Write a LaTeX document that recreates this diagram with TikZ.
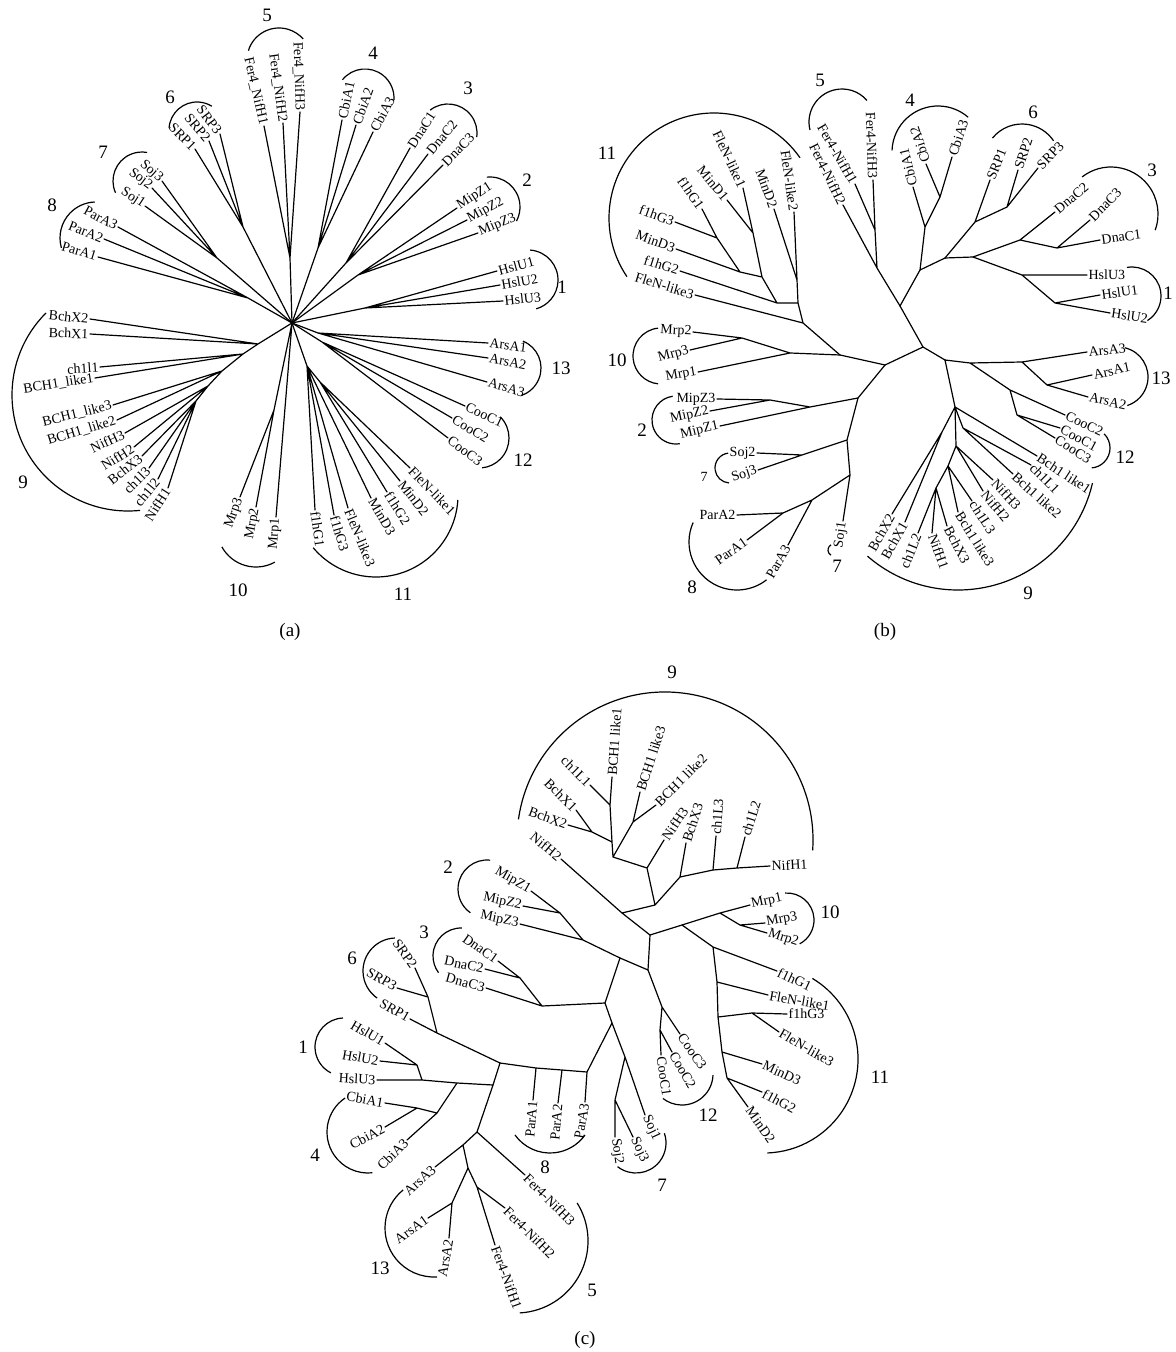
\documentclass[tikz,border=0pt]{standalone}
\usepackage{fontspec}
\setmainfont{Liberation Serif}
\tikzset{
    % Labels
    leaf/.style={font=\fontsize{7}{8}\selectfont, inner sep=0.6pt},
    leafR/.style={leaf, anchor=west, rotate=#1},
    leafL/.style={leaf, anchor=east, rotate=#1},
    cladenum/.style={font=\fontsize{9.5}{11}\selectfont, inner sep=0pt},
    panelcap/.style={font=\fontsize{9.5}{11}\selectfont, inner sep=0pt},
    % Lines
    branch/.style={line width=0.6pt, line cap=round, line join=round},
    cladearc/.style={line width=0.6pt}
}
\begin{document}
\begin{tikzpicture}[x=0.5pt, y=-0.5pt]
\useasboundingbox (0,0) rectangle (1175,1352);

% ================= (a) =================
\coordinate (aHub) at (292,323);
\coordinate (a5n) at (290,258);
\coordinate (a6n) at (243,227);
\coordinate (a7n) at (217,258);
\coordinate (a8n) at (248,298);
\coordinate (a4n) at (318,248);
\coordinate (a3n) at (346,263);
\coordinate (a2n) at (358,275);
\coordinate (a1n) at (365,308);
\coordinate (a13n) at (318,333);
\coordinate (a12n) at (322,342);
\coordinate (a11n) at (307,366);
\coordinate (a11m) at (320,382);
\coordinate (a10n) at (274,410);
\coordinate (a9a) at (258,344);
\coordinate (a9b) at (243,354);
\coordinate (a9c) at (222,371);
\coordinate (a9d) at (208,386);
\coordinate (a9e) at (196,401);

\node[leafL=-77] (aF1) at (264,126) {Fer4\_NifH1};
\node[leafL=-82] (aF2) at (283,123) {Fer4\_NifH2};
\node[leafL=-88] (aF3) at (300,112) {Fer4\_NifH3};
\node[leafL=-45] (aSR1) at (195,149) {SRP1};
\node[leafL=-50] (aSR2) at (209,141) {SRP2};
\node[leafL=-53] (aSR3) at (220,134) {SRP3};
\node[leafL=-33] (aJ1) at (145,206) {Soj1};
\node[leafL=-37] (aJ2) at (152,188) {Soj2};
\node[leafL=-42] (aJ3) at (162,181) {Soj3};
\node[leafL=-17] (aP1) at (98,257) {ParA1};
\node[leafL=-22] (aP2) at (104,239) {ParA2};
\node[leafL=-28] (aP3) at (118,227) {ParA3};
\node[leafR=78] (aC1) at (342,120) {CbiA1};
\node[leafR=70] (aC2) at (356,125) {CbiA2};
\node[leafR=62] (aC3) at (373,132) {CbiA3};
\node[leafR=57] (aD1) at (410,148) {DnaC1};
\node[leafR=50] (aD2) at (428,154) {DnaC2};
\node[leafR=45] (aD3) at (443,165) {DnaC3};
\node[leafR=33] (aM1) at (457,208) {MipZ1};
\node[leafR=28] (aM2) at (467,220) {MipZ2};
\node[leafR=22] (aM3) at (478,233) {MipZ3};
\node[leafR=15] (aH1) at (497,271) {HslU1};
\node[leafR=10] (aH2) at (500,285) {HslU2};
\node[leafR=6] (aH3) at (503,301) {HslU3};
\node[leafR=-7] (aA1) at (488,343) {ArsA1};
\node[leafR=-11] (aA2) at (488,358) {ArsA2};
\node[leafR=-16] (aA3) at (487,382) {ArsA3};
\node[leafR=-25] (aO1) at (465,406) {CooC1};
\node[leafR=-31] (aO2) at (452,418) {CooC2};
\node[leafR=-37] (aO3) at (448,438) {CooC3};
\node[leafR=-46] (aE1) at (410,468) {FleN-like1};
\node[leafR=-52] (aN2) at (400,481) {MinD2};
\node[leafR=-57] (aG2) at (387,492) {f1hG2};
\node[leafR=-60] (aN3) at (371,498) {MinD3};
\node[leafR=-68] (aE3) at (348,508) {FleN-like3};
\node[leafR=-73] (aG3) at (334,515) {f1hG3};
\node[leafR=-82] (aG1) at (315,510) {f1hG1};
\node[leafL=70] (aR3) at (240,497) {Mrp3};
\node[leafL=79] (aR2) at (256,507) {Mrp2};
\node[leafL=86] (aR1) at (276,517) {Mrp1};
\node[leafL=-6] (aX2) at (90,319) {BchX2};
\node[leafL=-2] (aX1) at (90,334) {BchX1};
\node[leafL=4] (aL1) at (100,367) {ch1l1};
\node[leafL=9] (aK1) at (95,378) {BCH1\_like1};
\node[leafL=14] (aK3) at (113,405) {BCH1\_like3};
\node[leafL=17] (aK2) at (117,420) {BCH1\_like2};
\node[leafL=25] (aY3) at (125,433) {NifH3};
\node[leafL=32] (aY2) at (134,447) {NifH2};
\node[leafL=38] (aX3) at (142,456) {BchX3};
\node[leafL=45] (aL3) at (149,468) {ch1l3};
\node[leafL=50] (aL2) at (158,479) {ch1l2};
\node[leafL=57] (aY1) at (168,488) {NifH1};

\draw[branch] (aHub) -- (a5n) (a5n) -- (aF1.east) (a5n) -- (aF2.east) (a5n) -- (aF3.east);
\draw[branch] (aHub) -- (a6n) (a6n) -- (aSR1.east) (a6n) -- (aSR2.east) (a6n) -- (aSR3.east);
\draw[branch] (aHub) -- (a7n) (a7n) -- (aJ1.east) (a7n) -- (aJ2.east) (a7n) -- (aJ3.east);
\draw[branch] (aHub) -- (a8n) (a8n) -- (aP1.east) (a8n) -- (aP2.east) (a8n) -- (aP3.east);
\draw[branch] (aHub) -- (a4n) (a4n) -- (aC1.west) (a4n) -- (aC2.west) (a4n) -- (aC3.west);
\draw[branch] (aHub) -- (a3n) (a3n) -- (aD1.west) (a3n) -- (aD2.west) (a3n) -- (aD3.west);
\draw[branch] (aHub) -- (a2n) (a2n) -- (aM1.west) (a2n) -- (aM2.west) (a2n) -- (aM3.west);
\draw[branch] (aHub) -- (a1n) (a1n) -- (aH1.west) (a1n) -- (aH2.west) (a1n) -- (aH3.west);
\draw[branch] (aHub) -- (a13n) (a13n) -- (aA1.west) (a13n) -- (aA2.west) (a13n) -- (aA3.west);
\draw[branch] (aHub) -- (a12n) (a12n) -- (aO1.west) (a12n) -- (aO2.west) (a12n) -- (aO3.west);
\draw[branch] (aHub) -- (a11n) (a11n) -- (a11m) (a11n) -- (aG1.west) (a11n) -- (aG3.west)
    (a11n) -- (aE3.west) (a11n) -- (aN3.west) (a11m) -- (aG2.west) (a11m) -- (aN2.west) (a11m) -- (aE1.west);
\draw[branch] (aHub) -- (a10n) (a10n) -- (aR3.east) (a10n) -- (aR2.east) (aHub) -- (aR1.east);
\draw[branch] (aHub) -- (a9a) (a9a) -- (aX2.east) (a9a) -- (aX1.east) (a9a) -- (a9b)
    (a9b) -- (aL1.east) (a9b) -- (aK1.east) (a9b) -- (a9c)
    (a9c) -- (aK3.east) (a9c) -- (aK2.east) (a9c) -- (a9d)
    (a9d) -- (aY3.east) (a9d) -- (aY2.east) (a9d) -- (a9e)
    (a9e) -- (aX3.east) (a9e) -- (aL3.east) (a9e) -- (aL2.east) (a9e) -- (aY1.east);

\draw[cladearc] (279,60) ++(-163:32) arc[start angle=-163, end angle=-41, radius=32];
\draw[cladearc] (197,130) ++(-176:28) arc[start angle=-176, end angle=-58, radius=28];
\draw[cladearc] (142,181) ++(156:29) arc[start angle=156, end angle=280, radius=29];
\draw[cladearc] (96,238) ++(164:36) arc[start angle=164, end angle=268, radius=36];
\draw[cladearc] (365,98) ++(-141:29) arc[start angle=-141, end angle=4, radius=29];
\draw[cladearc] (448,133) ++(-128:29) arc[start angle=-128, end angle=8, radius=29];
\draw[cladearc] (490,207) ++(-96:30) arc[start angle=-96, end angle=28, radius=30];
\draw[cladearc] (528,280) ++(-86:30) arc[start angle=-86, end angle=74, radius=30];
\draw[cladearc] (512,368) ++(-68:29) arc[start angle=-68, end angle=71, radius=29];
\draw[cladearc] (479,438) ++(-45:30) arc[start angle=-45, end angle=84, radius=30];
\draw[cladearc] (376,495) ++(140:82) arc[start angle=140, end angle=3.5, radius=82];
\draw[cladearc] (256,528) ++(151:39) arc[start angle=151, end angle=61, radius=39];
\draw[cladearc] (128,395) ++(225:116) arc[start angle=225, end angle=84, radius=116];

\node[cladenum] (a5l) at (267,15) {5};
\node[cladenum] (a6l) at (170,97) {6};
\node[cladenum] (a7l) at (103,152) {7};
\node[cladenum] (a8l) at (52,205) {8};
\node[cladenum] (a4l) at (373,53) {4};
\node[cladenum] (a3l) at (468,88) {3};
\node[cladenum] (a2l) at (527,180) {2};
\node[cladenum] (a1l) at (562,287) {1};
\node[cladenum] (a13l) at (561,368) {13};
\node[cladenum] (a12l) at (523,460) {12};
\node[cladenum] (a11l) at (403,594) {11};
\node[cladenum] (a10l) at (238,590) {10};
\node[cladenum] (a9l) at (23,482) {9};
\node[panelcap] (capA) at (290,632) {(a)};

% ================= (b) =================
\coordinate (bT) at (900,306);
\coordinate (bC) at (923,347);
\coordinate (bL) at (885,365);
\coordinate (bR) at (945,360);
\coordinate (b5n) at (877,268);
\coordinate (b5a) at (875,230);
\coordinate (bU) at (920,270);
\coordinate (bCbi) at (925,227);
\coordinate (bCbi2) at (940,197);
\coordinate (bV) at (945,258);
\coordinate (bSRP) at (975,222);
\coordinate (bSRP2) at (1007,207);
\coordinate (bW) at (973,257);
\coordinate (bDna) at (1020,240);
\coordinate (bDna2) at (1057,248);
\coordinate (bHsl) at (1022,275);
\coordinate (bHsl2) at (1055,303);
\coordinate (b11a) at (717,238);
\coordinate (b11b) at (740,272);
\coordinate (b11c) at (762,277);
\coordinate (b11g) at (753,233);
\coordinate (b11d) at (777,303);
\coordinate (b11h) at (797,280);
\coordinate (b11e) at (798,303);
\coordinate (b11f) at (803,323);
\coordinate (b10p) at (840,355);
\coordinate (b10n) at (790,353);
\coordinate (b10m) at (742,338);
\coordinate (bM) at (858,398);
\coordinate (bMip) at (810,407);
\coordinate (bMip2) at (770,400);
\coordinate (bSj) at (847,440);
\coordinate (bSj2) at (802,455);
\coordinate (bP) at (850,475);
\coordinate (bP2) at (812,500);
\coordinate (bP3) at (783,513);
\coordinate (bRa) at (970,363);
\coordinate (bArs) at (1022,362);
\coordinate (bArs2) at (1047,385);
\coordinate (bCoo) at (1010,390);
\coordinate (bCoo2) at (1017,415);
\coordinate (b9a) at (955,407);
\coordinate (b9b) at (963,428);
\coordinate (b9c) at (956,446);
\coordinate (b9d) at (948,466);
\coordinate (b9e) at (936,488);
\coordinate (b9f) at (942,432);

\node[leafL=-60] (bF1) at (855,184) {Fer4-NifH1};
\node[leafL=-64] (bF2) at (843,205) {Fer4-NifH2};
\node[leafL=-88] (bF3) at (873,180) {Fer4-NifH3};
\node[leafR=104] (bC1) at (913,187) {CbiA1};
\node[leafR=108] (bC2) at (926,164) {CbiA2};
\node[leafR=72] (bC3) at (952,157) {CbiA3};
\node[leafR=68] (bSR1) at (990,180) {SRP1};
\node[leafR=72] (bSR2) at (1018,170) {SRP2};
\node[leafR=45] (bSR3) at (1038,168) {SRP3};
\node[leafR=40] (bD2) at (1055,212) {DnaC2};
\node[leafR=45] (bD3) at (1090,220) {DnaC3};
\node[leafR=8] (bD1) at (1100,240) {DnaC1};
\node[leafR=0] (bH3) at (1087,275) {HslU3};
\node[leafR=8] (bH1) at (1100,295) {HslU1};
\node[leafR=-8] (bH2) at (1110,313) {HslU2};
\node[leafL=-65] (bE1) at (743,188) {FleN-like1};
\node[leafL=-50] (bN1) at (727,200) {MinD1};
\node[leafL=-55] (bG1) at (702,209) {f1hG1};
\node[leafL=-20] (bG3) at (675,222) {f1hG3};
\node[leafL=-20] (bN3) at (676,249) {MinD3};
\node[leafL=-18] (bG2) at (680,271) {f1hG2};
\node[leafL=-17] (bE3) at (695,295) {FleN-like3};
\node[leafL=-70] (bN2) at (774,209) {MinD2};
\node[leafL=-82] (bE2) at (794,212) {FleN-like2};
\node[leafL=-3] (bR2) at (693,332) {Mrp2};
\node[leafL=15] (bR3) at (690,350) {Mrp3};
\node[leafL=10] (bR1) at (698,372) {Mrp1};
\node[leafL=0] (bM3) at (717,399) {MipZ3};
\node[leafL=12] (bM2) at (710,411) {MipZ2};
\node[leafL=13] (bM1) at (720,426) {MipZ1};
\node[leafL=0] (bJ2) at (757,453) {Soj2};
\node[leafL=18] (bJ3) at (758,470) {Soj3};
\node[leafL=82] (bJ1) at (843,521) {Soj1};
\node[leafL=0] (bPA2) at (737,515) {ParA2};
\node[leafL=35] (bPA1) at (747,540) {ParA1};
\node[leafL=60] (bPA3) at (788,545) {ParA3};
\node[leafR=5] (bA3) at (1087,352) {ArsA3};
\node[leafR=12] (bA1) at (1092,375) {ArsA1};
\node[leafR=-12] (bA2) at (1088,397) {ArsA2};
\node[leafR=-25] (bO2) at (1065,415) {CooC2};
\node[leafR=-28] (bO1) at (1060,428) {CooC1};
\node[leafR=-32] (bO3) at (1055,438) {CooC3};
\node[leafR=-33] (bK1) at (1037,456) {Bch1 like1};
\node[leafR=-45] (bL1) at (1031,465) {ch1L1};
\node[leafR=-42] (bK2) at (1013,474) {Bch1 like2};
\node[leafR=-47] (bY3) at (993,480) {NifH3};
\node[leafR=-50] (bY2) at (983,491) {NifH2};
\node[leafR=-57] (bL3) at (972,501) {ch1L3};
\node[leafR=-58] (bK3) at (958,512) {Bch1 like3};
\node[leafR=-62] (bX3) at (947,526) {BchX3};
\node[leafR=-70] (bY1) at (932,533) {NifH1};
\node[leafL=68] (bL2) at (918,533) {ch1L2};
\node[leafL=60] (bX1) at (905,522) {BchX1};
\node[leafL=60] (bX2) at (892,514) {BchX2};

\draw[branch] (bT) -- (bC) (bC) -- (bL) (bC) -- (bR);
\draw[branch] (bT) -- (b5n) (b5n) -- (b5a) (b5a) -- (bF1.east) (b5a) -- (bF3.east) (b5n) -- (bF2.east);
\draw[branch] (bT) -- (bU) (bU) -- (bCbi) (bCbi) -- (bC1.west) (bCbi) -- (bCbi2) (bCbi2) -- (bC2.west) (bCbi2) -- (bC3.west);
\draw[branch] (bU) -- (bV) (bV) -- (bSRP) (bSRP) -- (bSR1.west) (bSRP) -- (bSRP2) (bSRP2) -- (bSR2.west) (bSRP2) -- (bSR3.west);
\draw[branch] (bV) -- (bW) (bW) -- (bDna) (bDna) -- (bD2.west) (bDna) -- (bDna2) (bDna2) -- (bD3.west) (bDna2) -- (bD1.west);
\draw[branch] (bW) -- (bHsl) (bHsl) -- (bH3.west) (bHsl) -- (bHsl2) (bHsl2) -- (bH1.west) (bHsl2) -- (bH2.west);
\draw[branch] (bL) -- (b10p) (b10p) -- (b11f) (b11f) -- (bE3.east) (b11f) -- (b11e)
    (b11e) -- (b11h) (b11h) -- (bN2.east) (b11h) -- (bE2.east) (b11e) -- (b11d)
    (b11d) -- (bG2.east) (b11d) -- (b11c) (b11c) -- (b11g) (b11g) -- (bE1.east) (b11g) -- (bN1.east)
    (b11c) -- (b11b) (b11b) -- (bN3.east) (b11b) -- (b11a) (b11a) -- (bG1.east) (b11a) -- (bG3.east);
\draw[branch] (b10p) -- (b10n) (b10n) -- (bR1.east) (b10n) -- (b10m) (b10m) -- (bR2.east) (b10m) -- (bR3.east);
\draw[branch] (bL) -- (bM) (bM) -- (bMip) (bMip) -- (bM1.east) (bMip) -- (bMip2) (bMip2) -- (bM3.east) (bMip2) -- (bM2.east);
\draw[branch] (bM) -- (bSj) (bSj) -- (bSj2) (bSj2) -- (bJ2.east) (bSj2) -- (bJ3.east) (bSj) -- (bP)
    (bP) -- (bJ1.east) (bP) -- (bP2) (bP2) -- (bPA3.east) (bP2) -- (bP3) (bP3) -- (bPA2.east) (bP3) -- (bPA1.east);
\draw[branch] (bR) -- (bRa) (bRa) -- (bArs) (bArs) -- (bA3.west) (bArs) -- (bArs2) (bArs2) -- (bA1.west) (bArs2) -- (bA2.west)
    (bRa) -- (bCoo) (bCoo) -- (bO2.west) (bCoo) -- (bCoo2) (bCoo2) -- (bO1.west) (bCoo2) -- (bO3.west);
\draw[branch] (bR) -- (b9a) (b9a) -- (bK1.west) (b9a) -- (b9b) (b9b) -- (bL1.west) (b9b) -- (bK2.west)
    (b9a) -- (b9c) (b9c) -- (bY3.west) (b9c) -- (bY2.west) (b9c) -- (b9d)
    (b9d) -- (bL3.west) (b9d) -- (bK3.west) (b9d) -- (b9e)
    (b9e) -- (bX3.west) (b9e) -- (bY1.west) (b9e) -- (bL2.east)
    (b9a) -- (b9f) (b9f) -- (bX1.east) (b9f) -- (bX2.east);

\draw[cladearc] (842,122) ++(166:33) arc[start angle=166, end angle=319, radius=33];
\draw[cladearc] (938,152) ++(182:46) arc[start angle=182, end angle=311, radius=46];
\draw[cladearc] (1022,162) ++(219:38) arc[start angle=219, end angle=326, radius=38];
\draw[cladearc] (1111,214) ++(232:47) arc[start angle=232, end angle=380, radius=47];
\draw[cladearc] (1132,296) ++(-100:29) arc[start angle=-100, end angle=58, radius=29];
\draw[cladearc] (1118,377) ++(-77:30) arc[start angle=-77, end angle=72, radius=30];
\draw[cladearc] (1090,448) ++(-45:20) arc[start angle=-45, end angle=85, radius=20];
\draw[cladearc] (958,452) ++(131:138) arc[start angle=131, end angle=13, radius=138];
\draw[cladearc] (737,542) ++(204:48) arc[start angle=204, end angle=52, radius=48];
\draw[cladearc] (730,468) ++(263:15) arc[start angle=263, end angle=94, radius=15];
\draw[cladearc] (834,550) ++(240:6) arc[start angle=240, end angle=120, radius=6];
\draw[cladearc] (676,420) ++(262:24) arc[start angle=262, end angle=81, radius=24];
\draw[cladearc] (661,356) ++(264:28) arc[start angle=264, end angle=96, radius=28];
\draw[cladearc] (714,218) ++(146:105) arc[start angle=146, end angle=325, radius=105];

\node[cladenum] (b5l) at (820,80) {5};
\node[cladenum] (b4l) at (910,100) {4};
\node[cladenum] (b6l) at (1033,112) {6};
\node[cladenum] (b3l) at (1152,170) {3};
\node[cladenum] (b1l) at (1168,293) {1};
\node[cladenum] (b13l) at (1161,378) {13};
\node[cladenum] (b12l) at (1125,457) {12};
\node[cladenum] (b9l) at (1028,593) {9};
\node[cladenum] (b8l) at (692,587) {8};
\node[cladenum] (b7l) at (837,566) {7};
\node[cladenum, font=\fontsize{7}{8}\selectfont] (b7s) at (704,477) {7};
\node[cladenum] (b2l) at (642,430) {2};
\node[cladenum] (b10l) at (617,360) {10};
\node[cladenum] (b11l) at (607,153) {11};
\node[panelcap] (capB) at (885,632) {(b)};

% ================= (c) =================
\coordinate (c9a) at (610,805);
\coordinate (c9b) at (612,842);
\coordinate (c9c) at (592,832);
\coordinate (c9d) at (613,857);
\coordinate (c9e) at (633,822);
\coordinate (c9f) at (647,868);
\coordinate (c9h) at (655,905);
\coordinate (c9i) at (680,877);
\coordinate (c9k) at (713,870);
\coordinate (c9l) at (737,868);
\coordinate (c9j) at (622,913);
\coordinate (cX) at (650,935);
\coordinate (cY) at (682,925);
\coordinate (c10a) at (720,913);
\coordinate (c10b) at (740,925);
\coordinate (c11a) at (713,947);
\coordinate (c11b) at (717,982);
\coordinate (c11c) at (718,1017);
\coordinate (c11d) at (752,1013);
\coordinate (c11e) at (722,1052);
\coordinate (c11f) at (727,1078);
\coordinate (cZ) at (648,970);
\coordinate (c12a) at (662,1007);
\coordinate (c12b) at (660,1030);
\coordinate (cM) at (620,958);
\coordinate (cMip) at (583,940);
\coordinate (cMip2) at (560,913);
\coordinate (cS) at (605,1003);
\coordinate (cDna) at (542,1006);
\coordinate (cDna2) at (520,978);
\coordinate (cS2) at (612,1023);
\coordinate (cSoj) at (625,1057);
\coordinate (cSoj2) at (615,1100);
\coordinate (cPar) at (587,1072);
\coordinate (cPar2) at (562,1070);
\coordinate (cPar3) at (536,1068);
\coordinate (cBig) at (500,1063);
\coordinate (cSRPj) at (437,1033);
\coordinate (cSRP) at (428,997);
\coordinate (cHJ) at (493,1085);
\coordinate (cCbiJ) at (457,1083);
\coordinate (cCbi) at (437,1113);
\coordinate (cCbi2) at (417,1108);
\coordinate (cHsl) at (422,1080);
\coordinate (cHsl2) at (417,1065);
\coordinate (cFer) at (477,1132);
\coordinate (cArs) at (463,1145);
\coordinate (cQ) at (468,1168);
\coordinate (cArs2) at (452,1203);
\coordinate (cFerB) at (477,1187);

\node[leafL=-45] (cL1) at (590,785) {ch1L1};
\node[leafR=86] (cK1) at (612,777) {BCH1 like1};
\node[leafL=-45] (cX1) at (576,810) {BchX1};
\node[leafL=-20] (cX2) at (568,825) {BchX2};
\node[leafR=72] (cK3) at (640,792) {BCH1 like3};
\node[leafR=45] (cK2) at (656,805) {BCH1 like2};
\node[leafR=56] (cY3) at (664,840) {NifH3};
\node[leafR=72] (cX3) at (686,843) {BchX3};
\node[leafR=86] (cL3) at (716,836) {ch1L3};
\node[leafR=72] (cL2) at (745,837) {ch1L2};
\node[leafR=3] (cY1) at (770,866) {NifH1};
\node[leafL=-40] (cY2) at (561,859) {NifH2};
\node[leafR=12] (cR1) at (750,905) {Mrp1};
\node[leafR=10] (cR3) at (765,923) {Mrp3};
\node[leafR=-18] (cR2) at (767,933) {Mrp2};
\node[leafR=-25] (cG1) at (777,971) {f1hG1};
\node[leafR=-10] (cE1) at (768,995) {FleN-like1};
\node[leafR=0] (cG3) at (787,1014) {f1hG3};
\node[leafR=-30] (cE3) at (779,1032) {FleN-like3};
\node[leafR=-25] (cN3) at (762,1064) {MinD3};
\node[leafR=-28] (cG2) at (762,1092) {f1hG2};
\node[leafR=-55] (cN2) at (748,1107) {MinD2};
\node[leafR=-55] (cO3) at (680,1034) {CooC3};
\node[leafR=-60] (cO2) at (672,1052) {CooC2};
\node[leafR=-82] (cO1) at (661,1055) {CooC1};
\node[leafL=-30] (cM1) at (531,891) {MipZ1};
\node[leafL=-12] (cM2) at (523,906) {MipZ2};
\node[leafL=-12] (cM3) at (520,924) {MipZ3};
\node[leafL=-35] (cD1) at (498,961) {DnaC1};
\node[leafL=-12] (cD2) at (485,969) {DnaC2};
\node[leafL=-15] (cD3) at (486,988) {DnaC3};
\node[leafR=-65] (cJ1) at (645,1115) {Soj1};
\node[leafR=-65] (cJ3) at (633,1137) {Soj3};
\node[leafR=-82] (cJ2) at (615,1137) {Soj2};
\node[leafL=85] (cPA1) at (533,1100) {ParA1};
\node[leafL=85] (cPA2) at (558,1103) {ParA2};
\node[leafL=80] (cPA3) at (585,1102) {ParA3};
\node[leafL=-30] (cSR1) at (410,1019) {SRP1};
\node[leafL=-55] (cSR2) at (415,968) {SRP2};
\node[leafL=-30] (cSR3) at (397,988) {SRP3};
\node[leafL=-30] (cH1) at (385,1043) {HslU1};
\node[leafL=-10] (cH2) at (380,1061) {HslU2};
\node[leafL=-3] (cH3) at (377,1080) {HslU3};
\node[leafL=-10] (cC1) at (385,1103) {CbiA1};
\node[leafL=28] (cC2) at (385,1127) {CbiA2};
\node[leafL=45] (cC3) at (407,1140) {CbiA3};
\node[leafL=42] (cA3) at (435,1167) {ArsA3};
\node[leafL=35] (cA1) at (428,1218) {ArsA1};
\node[leafL=80] (cA2) at (449,1238) {ArsA2};
\node[leafR=-45] (cF3) at (525,1175) {Fer4-NifH3};
\node[leafR=-45] (cF2) at (505,1208) {Fer4-NifH2};
\node[leafR=-70] (cF1) at (495,1245) {Fer4-NifH1};

\draw[branch] (c9a) -- (cL1.east) (c9a) -- (cK1.west) (c9b) -- (c9a)
    (c9c) -- (cX1.east) (c9c) -- (cX2.east) (c9b) -- (c9c) (c9d) -- (c9b)
    (c9e) -- (cK3.west) (c9e) -- (cK2.west) (c9d) -- (c9e) (c9f) -- (c9d)
    (c9f) -- (cY3.west) (c9f) -- (c9h) (c9h) -- (c9i) (c9i) -- (cX3.west) (c9i) -- (c9k)
    (c9k) -- (cL3.west) (c9k) -- (c9l) (c9l) -- (cL2.west) (c9l) -- (cY1.west)
    (c9h) -- (c9j) (c9j) -- (cY2.east) (c9j) -- (cX);
\draw[branch] (cX) -- (cY) (cY) -- (c10a) (c10a) -- (cR1.west) (c10a) -- (c10b) (c10b) -- (cR3.west) (c10b) -- (cR2.west);
\draw[branch] (cY) -- (c11a) (c11a) -- (cG1.west) (c11a) -- (c11b) (c11b) -- (cE1.west) (c11b) -- (c11c)
    (c11c) -- (c11d) (c11d) -- (cG3.west) (c11d) -- (cE3.west) (c11c) -- (c11e)
    (c11e) -- (cN3.west) (c11e) -- (c11f) (c11f) -- (cG2.west) (c11f) -- (cN2.west);
\draw[branch] (cX) -- (cZ) (cZ) -- (c12a) (c12a) -- (cO3.west) (c12a) -- (c12b) (c12b) -- (cO2.west) (c12b) -- (cO1.west);
\draw[branch] (cZ) -- (cM) (cM) -- (cMip) (cMip) -- (cM3.east) (cMip) -- (cMip2) (cMip2) -- (cM1.east) (cMip2) -- (cM2.east);
\draw[branch] (cM) -- (cS) (cS) -- (cDna) (cDna) -- (cD3.east) (cDna) -- (cDna2) (cDna2) -- (cD1.east) (cDna2) -- (cD2.east);
\draw[branch] (cS) -- (cS2) (cS2) -- (cSoj) (cSoj) -- (cJ1.west) (cSoj) -- (cSoj2) (cSoj2) -- (cJ2.west) (cSoj2) -- (cJ3.west);
\draw[branch] (cS2) -- (cPar) (cPar) -- (cPA3.east) (cPar) -- (cPar2) (cPar2) -- (cPA2.east) (cPar2) -- (cPar3)
    (cPar3) -- (cPA1.east) (cPar3) -- (cBig);
\draw[branch] (cBig) -- (cSRPj) (cSRPj) -- (cSR1.east) (cSRPj) -- (cSRP) (cSRP) -- (cSR2.east) (cSRP) -- (cSR3.east);
\draw[branch] (cBig) -- (cHJ) (cHJ) -- (cCbiJ) (cCbiJ) -- (cCbi) (cCbi) -- (cC3.east) (cCbi) -- (cCbi2)
    (cCbi2) -- (cC1.east) (cCbi2) -- (cC2.east) (cCbiJ) -- (cHsl) (cHsl) -- (cH3.east) (cHsl) -- (cHsl2)
    (cHsl2) -- (cH1.east) (cHsl2) -- (cH2.east);
\draw[branch] (cHJ) -- (cFer) (cFer) -- (cF3.west) (cFer) -- (cArs) (cArs) -- (cA3.east) (cArs) -- (cQ)
    (cQ) -- (cArs2) (cArs2) -- (cA1.east) (cArs2) -- (cA2.east) (cQ) -- (cFerB) (cFerB) -- (cF2.west) (cFerB) -- (cF1.west);

\draw[cladearc] (665,840) ++(188:148) arc[start angle=188, end angle=364, radius=148];
\draw[cladearc] (787,920) ++(-94:27) arc[start angle=-94, end angle=62, radius=27];
\draw[cladearc] (764,1059) ++(-59:94) arc[start angle=-59, end angle=88, radius=94];
\draw[cladearc] (682,1074) ++(2:31) arc[start angle=2, end angle=128, radius=31];
\draw[cladearc] (636,1143) ++(128:30) arc[start angle=128, end angle=-19, radius=30];
\draw[cladearc] (550,1110) ++(144.5:43) arc[start angle=144.5, end angle=35.5, radius=43];
\draw[cladearc] (516,1241) ++(-32:72) arc[start angle=-32, end angle=87, radius=72];
\draw[cladearc] (434,1228) ++(231:49) arc[start angle=231, end angle=86.5, radius=49];
\draw[cladearc] (368,1132) ++(236:41) arc[start angle=236, end angle=84, radius=41];
\draw[cladearc] (344,1047) ++(268:29) arc[start angle=268, end angle=117, radius=29];
\draw[cladearc] (396,971) ++(268:33) arc[start angle=268, end angle=125, radius=33];
\draw[cladearc] (461,956) ++(272:28) arc[start angle=272, end angle=143.5, radius=28];
\draw[cladearc] (487,889) ++(276:29) arc[start angle=276, end angle=125, radius=29];

\node[cladenum] (c9n) at (672,672) {9};
\node[cladenum] (c2n) at (448,867) {2};
\node[cladenum] (c3n) at (424,932) {3};
\node[cladenum] (c6n) at (352,958) {6};
\node[cladenum] (c1n) at (303,1047) {1};
\node[cladenum] (c4n) at (315,1155) {4};
\node[cladenum] (c13n) at (380,1268) {13};
\node[cladenum] (c5n) at (592,1290) {5};
\node[cladenum] (c8n) at (545,1167) {8};
\node[cladenum] (c7n) at (662,1185) {7};
\node[cladenum] (c12n) at (708,1115) {12};
\node[cladenum] (c11n) at (880,1077) {11};
\node[cladenum] (c10n) at (830,912) {10};
\node[panelcap] (capC) at (585,1340) {(c)};

\end{tikzpicture}
\end{document}
